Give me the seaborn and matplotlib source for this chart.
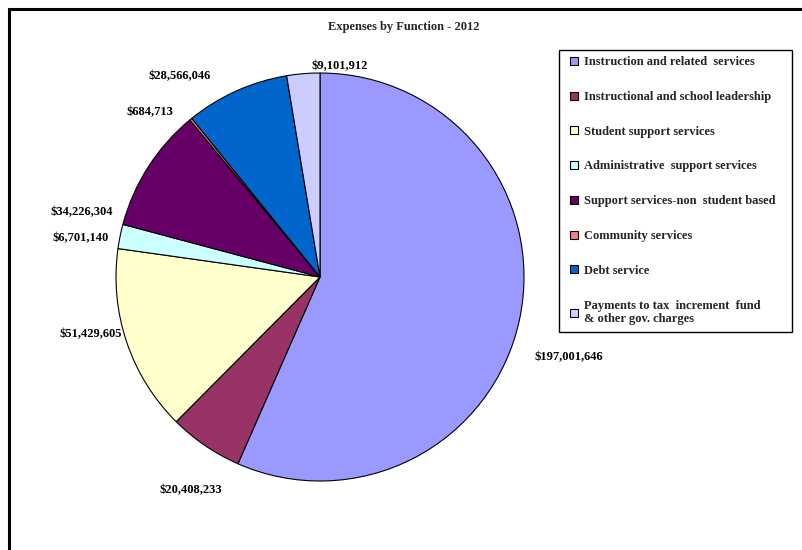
import numpy as np
import matplotlib
matplotlib.use('Agg')
import matplotlib.pyplot as plt
from matplotlib.patches import Rectangle
from matplotlib.lines import Line2D
import seaborn as sns

# Data
categories = ["Instruction and related  services",
              "Instructional and school leadership",
              "Student support services",
              "Administrative  support services",
              "Support services-non  student based",
              "Community services",
              "Debt service",
              "Payments to tax  increment  fund\n& other gov. charges"]
values = [197001646, 20408233, 51429605, 6701140, 34226304, 684713, 28566046, 9101912]
colors = ["#9999FF", "#993366", "#FFFFCC", "#CCFFFF", "#660066", "#FF8080", "#0066CC", "#CCCCFF"]
title = "Expenses by Function - 2012"

sns.set_theme(style="white")
plt.rcParams['font.family'] = ['Liberation Serif', 'DejaVu Serif']

fig = plt.figure(figsize=(8.02, 5.5), dpi=100)
ax = fig.add_axes([0, 0, 1, 1])

palette = sns.color_palette(colors)
wedges, _ = ax.pie(values, colors=palette, startangle=90, counterclock=False,
                   wedgeprops=dict(edgecolor="black", linewidth=0.8))

# pie centre at (320, 277) px, radius 204 px
ax.set_xlim(-320 / 204, (802 - 320) / 204)
ax.set_ylim(-(550 - 277) / 204, 277 / 204)
ax.set_aspect('auto')
ax.axis('off')

# Value labels, placed roughly the way the spreadsheet put them
angle_shift = [-6, 3, -4.5, 2.3, 17.4, 6.6, 10.8, -10]
label_radius = [1.28, 1.22, 1.16, 1.19, 1.21, 1.16, 1.20, 1.04]
for w, v, dth, rr in zip(wedges, values, angle_shift, label_radius):
    th = np.deg2rad((w.theta1 + w.theta2) / 2 + dth)
    ax.text(rr * np.cos(th), rr * np.sin(th), f"${v:,}", ha="center", va="center",
            fontsize=9, fontweight="bold", color="black")

fig.text(404 / 802, 1 - 27 / 550, title, ha="center", va="center",
         fontsize=9, fontweight="bold")

handles = [Line2D([], [], linestyle="none", marker="s", markersize=5.2,
                  markerfacecolor=c, markeredgecolor="black", markeredgewidth=0.8)
           for c in palette]
leg = fig.legend(handles, categories, loc="upper left",
                 bbox_to_anchor=(559 / 802, 1 - 333 / 550, 233 / 802, 283 / 550),
                 mode="expand", fancybox=False, framealpha=1, edgecolor="black",
                 prop=dict(size=9, weight="bold"), labelspacing=1.82,
                 handlelength=1.45, handletextpad=0.05,
                 borderpad=0.5, borderaxespad=0)
leg.get_frame().set_linewidth(1.0)

# Outer chart border (only top and left visible)
fig.add_artist(Rectangle((8.5 / 802, -0.5), 2, 1.5 - 8.5 / 550, transform=fig.transFigure,
                         fill=False, edgecolor="black", linewidth=2.2))

fig.savefig("out.png", dpi=100)
